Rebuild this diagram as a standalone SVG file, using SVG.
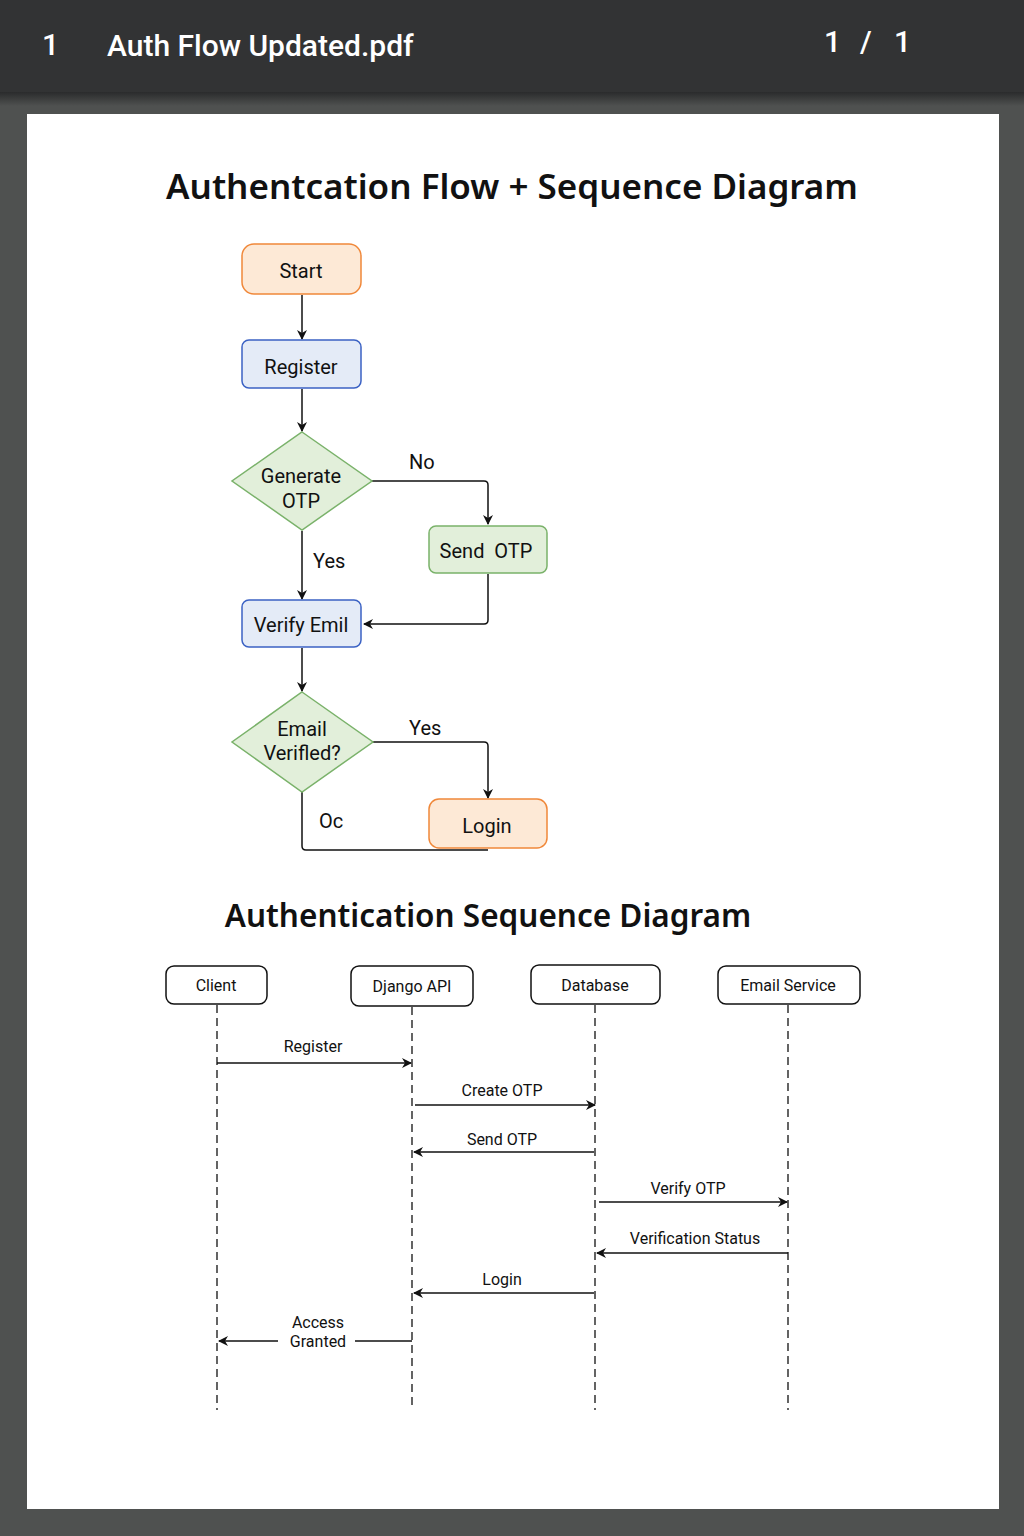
<svg xmlns="http://www.w3.org/2000/svg" width="1024" height="1536" viewBox="0 0 1024 1536">
<defs>
<marker id="ah" viewBox="0 0 10 10" refX="9" refY="5" markerWidth="10" markerHeight="10" orient="auto-start-reverse" markerUnits="userSpaceOnUse">
<path d="M0,0 L10,5 L0,10 L3,5 z" fill="#111"/>
</marker>
<linearGradient id="sh" x1="0" y1="0" x2="0" y2="1">
<stop offset="0" stop-color="#2a2b2c"/>
<stop offset="1" stop-color="#4f5150"/>
</linearGradient>
<style>
.hdr{font-family:"Roboto","Liberation Sans",sans-serif;fill:#fff;font-size:30px;font-weight:500}
.ttl{font-family:"Noto Sans","Open Sans",sans-serif;font-weight:600;fill:#111;text-anchor:middle}
.nt{font-family:"Roboto","Liberation Sans",sans-serif;font-size:20px;fill:#111;text-anchor:middle}
.lb{font-family:"Roboto","Liberation Sans",sans-serif;font-size:20px;fill:#111}
.st{font-family:"Roboto","Liberation Sans",sans-serif;font-size:16px;fill:#111;text-anchor:middle}
.orange{fill:#fde9d6;stroke:#f0883a;stroke-width:1.5}
.blue{fill:#e4ebf7;stroke:#3b62c4;stroke-width:1.5}
.green{fill:#e2efda;stroke:#7ab26a;stroke-width:1.5}
.pbox{fill:#fff;stroke:#111;stroke-width:1.5}
.ln{fill:none;stroke:#111;stroke-width:1.5}
.arr{fill:none;stroke:#111;stroke-width:1.5;marker-end:url(#ah)}
.life{fill:none;stroke:#111;stroke-width:1.3;stroke-dasharray:8 5}
</style>
</defs>
<rect width="1024" height="1536" fill="#4f5150"/>
<rect width="1024" height="92" fill="#323334"/>
<rect y="92" width="1024" height="14" fill="url(#sh)"/>
<text class="hdr" x="42" y="55">1</text>
<text class="hdr" x="107" y="56">Auth Flow Updated.pdf</text>
<text class="hdr" x="824" y="52">1</text>
<text class="hdr" x="860" y="52">/</text>
<text class="hdr" x="894" y="52">1</text>
<rect x="27" y="114" width="972" height="1395" fill="#fff"/>
<text class="ttl" x="512" y="199" font-size="35">Authentcation Flow + Sequence Diagram</text>

<g id="connectors">
<line class="arr" x1="302" y1="295" x2="302" y2="339"/>
<line class="arr" x1="302" y1="389" x2="302" y2="431"/>
<path class="arr" d="M372,481 H484 Q488,481 488,485 V524"/>
<text class="lb" x="409" y="469">No</text>
<line class="arr" x1="302" y1="531" x2="302" y2="599"/>
<text class="lb" x="313" y="568">Yes</text>
<path class="arr" d="M488,574 V620 Q488,624 484,624 H364"/>
<line class="arr" x1="302" y1="648" x2="302" y2="691"/>
<path class="arr" d="M373,742 H484 Q488,742 488,746 V798"/>
<text class="lb" x="409" y="735">Yes</text>
<path class="ln" d="M302,792 V846 Q302,850 306,850 H488"/>
<text class="lb" x="319" y="828">Oc</text>
</g>

<g id="start"><rect class="orange" x="242" y="244" width="119" height="50" rx="12"/><text class="nt" x="301" y="278">Start</text></g>
<g id="register"><rect class="blue" x="242" y="340" width="119" height="48" rx="7"/><text class="nt" x="301" y="374">Register</text></g>
<g id="generate-otp"><polygon class="green" points="302,432 372,481 302,530 232,481"/><text class="nt" x="301" y="483">Generate</text><text class="nt" x="301" y="508">OTP</text></g>
<g id="send-otp"><rect class="green" x="429" y="526" width="118" height="47" rx="7"/><text class="nt" x="486" y="558" xml:space="preserve">Send  OTP</text></g>
<g id="verify-email"><rect class="blue" x="242" y="600" width="119" height="47" rx="7"/><text class="nt" x="301" y="632">Verify Emil</text></g>
<g id="email-verified"><polygon class="green" points="302,692 373,742 302,792 232,742"/><text class="nt" x="302" y="736">Email</text><text class="nt" x="302" y="760">Verifled?</text></g>
<g id="login"><rect class="orange" x="429" y="799" width="118" height="49" rx="10"/><text class="nt" x="487" y="833">Login</text></g>

<text class="ttl" x="488" y="927" font-size="31.5">Authentication Sequence Diagram</text>

<g id="seq-connectors">
<line class="life" x1="217" y1="1005" x2="217" y2="1410"/>
<line class="life" x1="412" y1="1007" x2="412" y2="1410"/>
<line class="life" x1="595" y1="1005" x2="595" y2="1410"/>
<line class="life" x1="788" y1="1005" x2="788" y2="1410"/>
<line class="arr" x1="217" y1="1063" x2="411" y2="1063"/>
<text class="st" x="313" y="1052">Register</text>
<line class="arr" x1="415" y1="1105" x2="595" y2="1105"/>
<text class="st" x="502" y="1096">Create OTP</text>
<line class="arr" x1="594" y1="1152" x2="414" y2="1152"/>
<text class="st" x="502" y="1145">Send OTP</text>
<line class="arr" x1="599" y1="1202" x2="787" y2="1202"/>
<text class="st" x="688" y="1194" font-size="17">Verify OTP</text>
<line class="arr" x1="788" y1="1253" x2="597" y2="1253"/>
<text class="st" x="695" y="1244">Verification Status</text>
<line class="arr" x1="594" y1="1293" x2="414" y2="1293"/>
<text class="st" x="502" y="1285">Login</text>
<line class="ln" x1="412" y1="1341" x2="355" y2="1341"/>
<line class="arr" x1="278" y1="1341" x2="219" y2="1341"/>
<text class="st" x="318" y="1328">Access</text>
<text class="st" x="318" y="1347">Granted</text>
</g>

<g id="client"><rect class="pbox" x="166" y="966" width="101" height="38" rx="8"/><text class="st" x="216" y="991">Client</text></g>
<g id="django-api"><rect class="pbox" x="351" y="966" width="122" height="40" rx="8"/><text class="st" x="412" y="992">Django API</text></g>
<g id="database"><rect class="pbox" x="531" y="965" width="129" height="39" rx="8"/><text class="st" x="595" y="991">Database</text></g>
<g id="email-service"><rect class="pbox" x="718" y="966" width="142" height="38" rx="8"/><text class="st" x="788" y="991">Email Service</text></g>
</svg>
